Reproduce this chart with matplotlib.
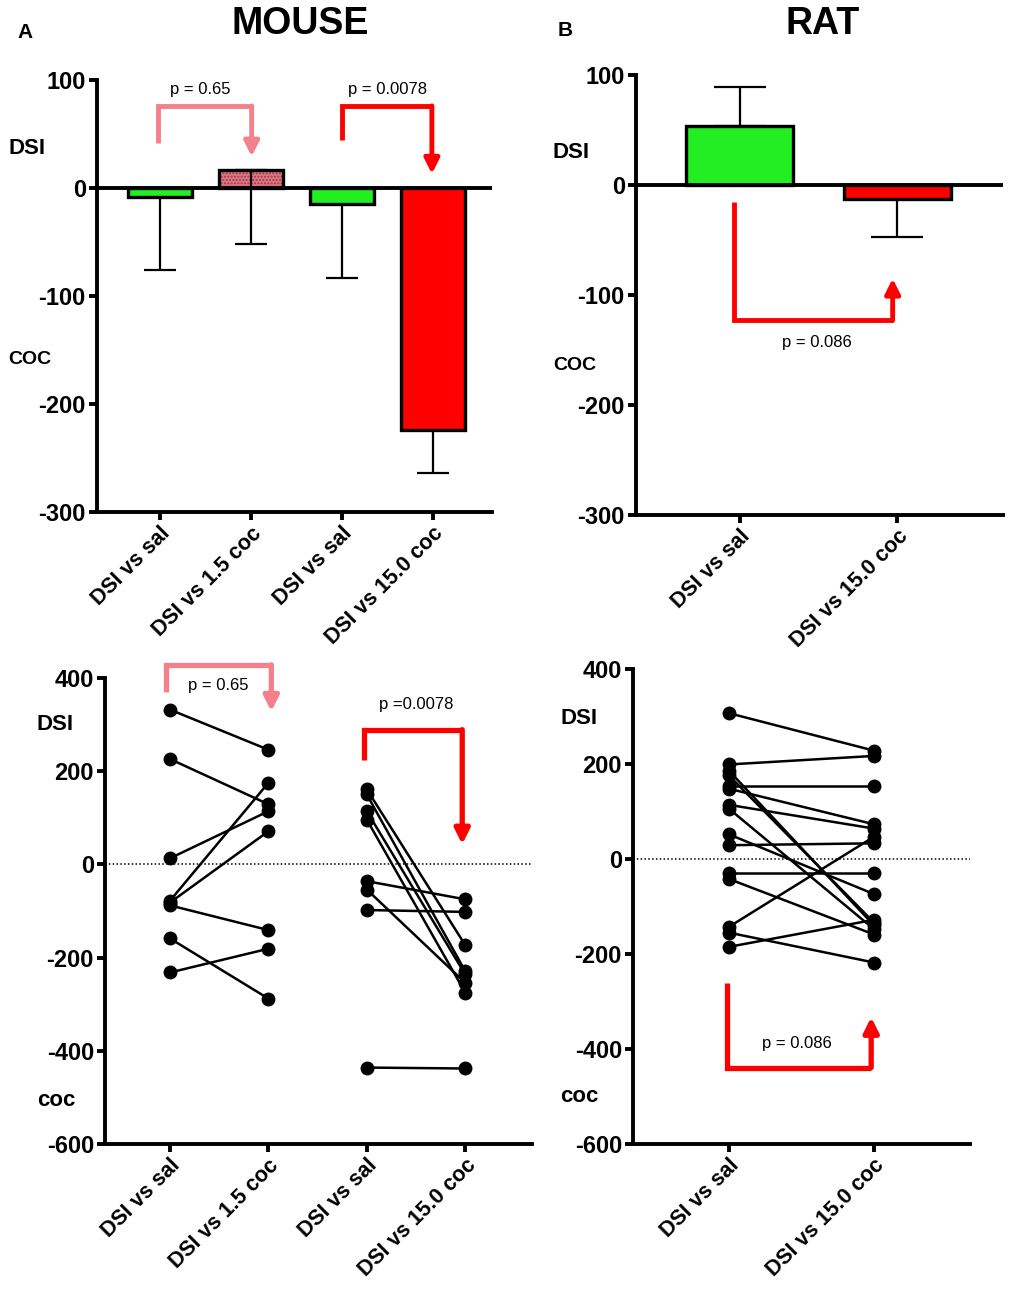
import numpy as np
import matplotlib.pyplot as plt

plt.rcParams['font.family'] = ['Liberation Sans', 'DejaVu Sans']
plt.rcParams['axes.unicode_minus'] = False

# ---- data ----
mouse_labels = ['DSI vs sal', 'DSI vs 1.5 coc', 'DSI vs sal', 'DSI vs 15.0 coc']
mouse_means = [-8, 17, -15, -224]
mouse_err_low = [68, 69, 68, 40]
mouse_err_high = [0, 0, 0, 0]

rat_labels = ['DSI vs sal', 'DSI vs 15.0 coc']
rat_means = [54, -13]
rat_err_low = [0, 34]
rat_err_high = [35, 0]

# paired individual values (mouse)
mouse_sal_a = [332, 226, 13, -78, -82, -88, -159, -232]
mouse_coc15 = [246, 129, 114, 175, 71, -141, -288, -181]
mouse_sal_b = [161, 150, 114, 96, -36, -54, -98, -436]
mouse_coc150 = [-173, -229, -236, -275, -75, -254, -102, -438]

# paired individual values (rat)
rat_sal = [307, 199, 186, 176, 153, 148, 114, 106, 52, 29, -30, -42, -143, -155, -185]
rat_coc = [228, 217, -140, -134, 153, 73, 64, -148, -74, 33, -30, -159, 47, -218, -128]

GREEN = '#22ee22'
RED = '#ff0000'
PINK = '#f4808c'

fig = plt.figure(figsize=(10.11, 13.0), dpi=100)

def style_axes(ax):
    for s in ['top', 'right']:
        ax.spines[s].set_visible(False)
    for s in ['left', 'bottom']:
        ax.spines[s].set_linewidth(2.8)
    ax.tick_params(axis='both', width=2.8, length=6, labelsize=17, pad=2)
    for lab in ax.get_yticklabels():
        lab.set_fontweight('bold')
    ax.set_xticklabels(ax.get_xticklabels(), rotation=45, ha='right', va='top',
                       rotation_mode='anchor', fontsize=15.5, fontweight='bold')


def bracket(ax, x0, y0, ytop, x1, ytip, color, lw):
    # three-segment bracket with an arrow head on the final segment
    ax.plot([x0, x0, x1], [y0, ytop, ytop], color=color, lw=lw,
            solid_joinstyle='miter', solid_capstyle='butt', clip_on=False)
    ax.annotate('', xy=(x1, ytip), xytext=(x1, ytop),
                arrowprops=dict(arrowstyle='-|>', color=color, lw=lw,
                                mutation_scale=22, shrinkA=0, shrinkB=0),
                annotation_clip=False)


# ---------------- A top: mouse bars ----------------
ax1 = fig.add_axes([0.0959, 0.6062, 0.3907, 0.3323])
x = np.arange(len(mouse_means))
colors = [GREEN, None, GREEN, RED]
for i, m in enumerate(mouse_means):
    if i == 1:
        ax1.bar(x[i], m, width=0.7, color='#e07885', hatch='.....',
                edgecolor='#9a3848', linewidth=0, zorder=2)
        ax1.bar(x[i], m, width=0.7, fill=False, edgecolor='black',
                linewidth=2.4, zorder=3)
    else:
        ax1.bar(x[i], m, width=0.7, color=colors[i], edgecolor='black',
                linewidth=2.4, zorder=3)
ax1.errorbar(x, mouse_means, yerr=[mouse_err_low, mouse_err_high], fmt='none',
             ecolor='black', elinewidth=1.6, capsize=11.5, capthick=1.6, zorder=2)
ax1.axhline(0, color='black', lw=2.8, zorder=4)
ax1.set_xlim(-0.69, 3.65)
ax1.set_ylim(-300, 100)
ax1.set_yticks([-300, -200, -100, 0, 100])
ax1.set_xticks(x)
ax1.set_xticklabels(mouse_labels)
style_axes(ax1)
bracket(ax1, -0.02, 42, 76, 1.01, 29, PINK, 3.5)
ax1.text(0.44, 91, 'p = 0.65', ha='center', va='center', fontsize=12)
bracket(ax1, 2.0, 44, 76, 2.99, 13, RED, 3.5)
ax1.text(2.5, 91, 'p = 0.0078', ha='center', va='center', fontsize=12)

# ---------------- B top: rat bars ----------------
ax2 = fig.add_axes([0.629, 0.6038, 0.363, 0.3385])
xr = np.arange(len(rat_means))
ax2.bar(xr, rat_means, width=0.68, color=[GREEN, RED], edgecolor='black',
        linewidth=2.4, zorder=3)
ax2.errorbar(xr, rat_means, yerr=[rat_err_low, rat_err_high], fmt='none',
             ecolor='black', elinewidth=1.6, capsize=19, capthick=1.6, zorder=2)
ax2.axhline(0, color='black', lw=2.8, zorder=4)
ax2.set_xlim(-0.66, 1.67)
ax2.set_ylim(-300, 100)
ax2.set_yticks([-300, -200, -100, 0, 100])
ax2.set_xticks(xr)
ax2.set_xticklabels(rat_labels)
style_axes(ax2)
bracket(ax2, -0.04, -15, -123, 0.97, -85, RED, 3.5)
ax2.text(0.49, -143, 'p = 0.086', ha='center', va='center', fontsize=12)

# ---------------- A bottom: mouse paired ----------------
ax3 = fig.add_axes([0.1039, 0.1200, 0.4224, 0.3585])
for a, b in zip(mouse_sal_a, mouse_coc15):
    ax3.plot([0, 1], [a, b], color='black', lw=1.8, marker='o', ms=9, zorder=3)
for a, b in zip(mouse_sal_b, mouse_coc150):
    ax3.plot([2, 3], [a, b], color='black', lw=1.8, marker='o', ms=9, zorder=3)
ax3.axhline(0, color='black', lw=1.1, ls=(0, (1, 1.5)), zorder=1)
ax3.set_xlim(-0.66, 3.68)
ax3.set_ylim(-600, 400)
ax3.set_yticks([-600, -400, -200, 0, 200, 400])
ax3.set_xticks(range(4))
ax3.set_xticklabels(mouse_labels)
style_axes(ax3)
bracket(ax3, -0.04, 369, 428, 1.03, 328, PINK, 3.8)
ax3.text(0.49, 383, 'p = 0.65', ha='center', va='center', fontsize=12)
bracket(ax3, 1.97, 225, 289, 2.97, 43, RED, 3.8)
ax3.text(2.5, 343, 'p =0.0078', ha='center', va='center', fontsize=12)

# ---------------- B bottom: rat paired ----------------
ax4 = fig.add_axes([0.6261, 0.1200, 0.3333, 0.3654])
for a, b in zip(rat_sal, rat_coc):
    ax4.plot([0, 1], [a, b], color='black', lw=1.8, marker='o', ms=9, zorder=3)
ax4.axhline(0, color='black', lw=1.1, ls=(0, (1, 1.5)), zorder=1)
ax4.set_xlim(-0.66, 1.66)
ax4.set_ylim(-600, 400)
ax4.set_yticks([-600, -400, -200, 0, 200, 400])
ax4.set_xticks(range(2))
ax4.set_xticklabels(rat_labels)
style_axes(ax4)
ax4.plot([-0.01, -0.01, 0.98], [-262, -439, -439], color=RED, lw=3.8,
         solid_joinstyle='miter', solid_capstyle='butt')
ax4.annotate('', xy=(0.98, -333), xytext=(0.98, -439),
             arrowprops=dict(arrowstyle='-|>', color=RED, lw=3.8,
                             mutation_scale=22, shrinkA=0, shrinkB=0))
ax4.text(0.47, -389, 'p = 0.086', ha='center', va='center', fontsize=12)

# ---------------- figure texts ----------------
def ftext(px, py, s, **kw):
    fig.text(px / 1011, 1 - py / 1300, s, **kw)

ftext(300, 24, 'MOUSE', ha='center', va='center', fontsize=27, fontweight='bold')
ftext(823, 24, 'RAT', ha='center', va='center', fontsize=27, fontweight='bold')
ftext(25, 33, 'A', ha='center', va='center', fontsize=15, fontweight='bold')
ftext(565, 31, 'B', ha='center', va='center', fontsize=15, fontweight='bold')
ftext(8, 148, 'DSI', ha='left', va='center', fontsize=16, fontweight='bold')
ftext(8, 360, 'COC', ha='left', va='center', fontsize=14, fontweight='bold')
ftext(553, 153, 'DSI', ha='left', va='center', fontsize=16, fontweight='bold')
ftext(553, 365, 'COC', ha='left', va='center', fontsize=14, fontweight='bold')
ftext(37, 725, 'DSI', ha='left', va='center', fontsize=16, fontweight='bold')
ftext(37, 1100, 'coc', ha='left', va='center', fontsize=16, fontweight='bold')
ftext(560, 718, 'DSI', ha='left', va='center', fontsize=16, fontweight='bold')
ftext(560, 1097, 'coc', ha='left', va='center', fontsize=16, fontweight='bold')

fig.savefig('out.png', dpi=100)
